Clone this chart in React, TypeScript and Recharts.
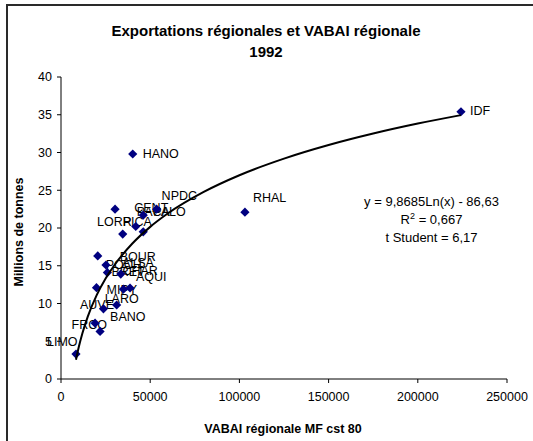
import React from 'react';
import { ScatterChart, Scatter, XAxis, YAxis } from 'recharts';

const regions = ['IDF', 'HANO', 'RHAL', 'LORR', 'PICA', 'PACA', 'PALO', 'CENT', 'NPDC', 'POCH', 'ALSA', 'BRET', 'BOUR', 'CHAR', 'AQUI', 'MIPY', 'AUVE', 'LARO', 'BANO', 'FRCO', 'LIMO'];
const vabai = [224200, 40200, 103100, 30300, 34600, 41900, 46100, 46100, 53600, 20600, 25200, 26000, 33500, 35000, 38700, 19900, 23800, 31200, 21900, 19100, 8400];
const exportsMt = [35.4, 29.8, 22.1, 22.5, 19.2, 20.2, 19.5, 21.7, 22.5, 16.3, 15.1, 14.1, 13.9, 11.9, 12.05, 12.1, 9.3, 9.8, 6.3, 7.4, 3.3];

// trend curve
const trendX = [8400, 10000, 12000, 15000, 20000, 25000, 30000, 40000, 50000, 60000, 80000, 100000, 125000, 150000, 175000, 200000, 224200];
const trendY = [2.54, 4.26, 6.06, 8.26, 11.1, 13.31, 15.1, 17.94, 20.15, 21.95, 24.78, 26.99, 29.19, 30.99, 32.51, 33.83, 34.95];

const xTicks = [0, 50000, 100000, 150000, 200000, 250000];
const yTicks = [0, 5, 10, 15, 20, 25, 30, 35, 40];

// label placement (left edge / vertical centre relative to marker)
const labelOffsets: Record<string, [number, number]> = {
  IDF: [9, -1], HANO: [10, -1], RHAL: [8, -15], LORR: [-18, 12], PICA: [0, -13],
  PACA: [1, -15], PALO: [10, -20.5], CENT: [-9, -7.5], NPDC: [5, -14],
  POCH: [8, 9], ALSA: [16, -2.5], BRET: [4, -1.5], BOUR: [-1, -17.5], CHAR: [-1, -18.5],
  AQUI: [6, -11.5], MIPY: [10, 1.5], AUVE: [-23.5, -4], LARO: [-12, -6.5],
  BANO: [10, -15], FRCO: [-23.5, 1], LIMO: [-29, -12.5],
};

const points = regions.map((name, i) => ({ name, x: vabai[i], y: exportsMt[i] }));
const trend = trendX.map((x, i) => ({ x, y: trendY[i] }));

const FONT = '"Liberation Sans", Arial, Helvetica, sans-serif';

const Diamond = (p: any) => {
  const { cx, cy } = p;
  const r = 4.6;
  return <polygon points={`${cx},${cy - r} ${cx + r},${cy} ${cx},${cy + r} ${cx - r},${cy}`} fill="#000080" />;
};

const LabelShape = (p: any) => {
  const { cx, cy, payload } = p;
  const off = labelOffsets[payload.name] ?? [9, 0];
  return (
    <text x={cx + off[0]} y={cy + off[1] + 4.5} fontSize={12.5} fontFamily={FONT} fill="#000">
      {payload.name}
    </text>
  );
};

const Empty = () => <g />;

export default function App() {
  return (
    <div style={{ position: 'fixed', left: 0, top: 0, width: 533, height: 441, overflow: 'hidden', background: '#fff' }}>
      <div style={{ position: 'absolute', left: 6, top: 4, width: 600, height: 500, border: '2px solid #2a2a2a', boxSizing: 'border-box' }} />
      <div style={{ position: 'absolute', left: 0, top: 0 }}>
        <ScatterChart width={533} height={441} margin={{ top: 77, right: 26, bottom: 32, left: 0 }} style={{ overflow: 'visible' }}>
          <XAxis
            type="number"
            dataKey="x"
            domain={[0, 250000]}
            ticks={xTicks}
            interval={0}
            tickSize={4}
            tickMargin={9}
            height={30}
            axisLine={{ stroke: '#000' }}
            tickLine={{ stroke: '#000' }}
            tick={{ fontSize: 12.5, fontFamily: FONT, fill: '#000' }}
          />
          <YAxis
            type="number"
            dataKey="y"
            domain={[0, 40]}
            ticks={yTicks}
            interval={0}
            width={61}
            tickSize={4}
            tickMargin={5}
            axisLine={{ stroke: '#000' }}
            tickLine={{ stroke: '#000' }}
            tick={{ fontSize: 12.5, fontFamily: FONT, fill: '#000' }}
          />
          <Scatter data={points} shape={LabelShape} isAnimationActive={false} />
          <Scatter data={points} shape={Diamond} isAnimationActive={false} />
          <Scatter
            data={trend}
            shape={Empty}
            line={{ stroke: '#000', strokeWidth: 2 }}
            lineJointType="monotoneX"
            isAnimationActive={false}
          />
        </ScatterChart>
      </div>
      <svg width={533} height={441} style={{ position: 'absolute', left: 0, top: 0, pointerEvents: 'none' }}>
        <g fontFamily={FONT} fill="#000">
          <text x={266} y={36} textAnchor="middle" fontSize={15} fontWeight="bold">Exportations régionales et VABAI régionale</text>
          <text x={266} y={57} textAnchor="middle" fontSize={15} fontWeight="bold">1992</text>
          <text x={283} y={432.5} textAnchor="middle" fontSize={12.5} fontWeight="bold">VABAI régionale MF cst 80</text>
          <text x={0} y={0} transform="translate(22.5,232) rotate(-90)" textAnchor="middle" fontSize={12.5} fontWeight="bold">Millions de tonnes</text>
          <text x={431.5} y={206} textAnchor="middle" fontSize={13}>y = 9,8685Ln(x) - 86,63</text>
          <text x={431.5} y={224} textAnchor="middle" fontSize={13}>
            R<tspan dy={-5} fontSize={9}>2</tspan><tspan dy={5}> = 0,667</tspan>
          </text>
          <text x={431.5} y={241.5} textAnchor="middle" fontSize={13}>t Student = 6,17</text>
        </g>
      </svg>
    </div>
  );
}
